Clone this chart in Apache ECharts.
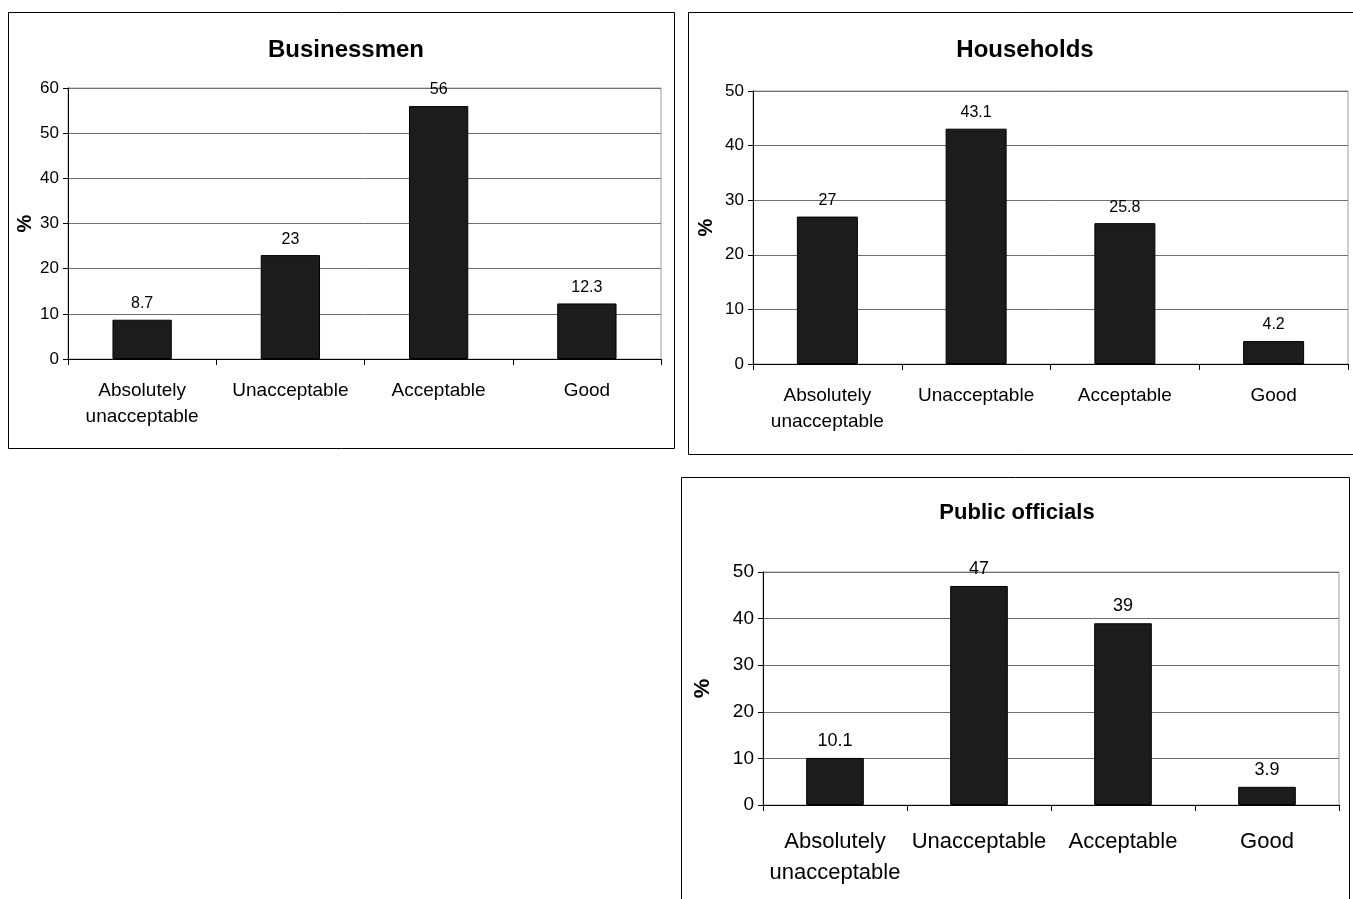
<!DOCTYPE html>
<html>
<head>
<meta charset="utf-8">
<style>
  html, body { margin: 0; padding: 0; background: #fff; }
  #chart { width: 1353px; height: 899px; }
</style>
<script src="https://cdn.jsdelivr.net/npm/echarts@6/dist/echarts.min.js"></script>
</head>
<body>
<div id="chart"></div>
<script>
// Survey answers, in percent
const categories = ['Absolutely\nunacceptable', 'Unacceptable', 'Acceptable', 'Good'];
const businessmen = [8.7, 23, 56, 12.3];
const households = [27, 43.1, 25.8, 4.2];
const publicOfficials = [10.1, 47, 39, 3.9];
const panelTitles = ['Businessmen', 'Households', 'Public officials'];
const axisMax = [60, 50, 50];

const FONT = '"Liberation Sans", Arial, sans-serif';

// one framed panel per respondent group
const panels = [
  { frame: [8, 12, 666, 436], grid: { left: 68, top: 88, width: 593, height: 271 }, titleDx: 0, titleTop: 33, titleSize: 24, tick: 17, cat: 19, lab: 16, lh: 26, margin: 19, nameSize: 20, nameGap: 33, barW: '40%', data: businessmen },
  { frame: [688, 12, 700, 442], grid: { left: 753, top: 91, width: 595, height: 273 }, titleDx: -18, titleTop: 33, titleSize: 24, tick: 17, cat: 19, lab: 16, lh: 26, margin: 19, nameSize: 20, nameGap: 37, barW: '41%', data: households },
  { frame: [681, 477, 668, 440], grid: { left: 763, top: 572, width: 576, height: 233 }, titleDx: -3, titleTop: 497, titleSize: 22, tick: 19, cat: 22, lab: 18, lh: 31, margin: 21, nameSize: 22, nameGap: 49, barW: '40%', data: publicOfficials }
];

const option = {
  backgroundColor: '#fff',
  animation: false,
  title: panels.map((p, i) => ({
    text: panelTitles[i],
    left: p.frame[0] + p.frame[2] / 2 + p.titleDx,
    textAlign: 'center',
    top: p.titleTop,
    textStyle: { fontFamily: FONT, fontWeight: 'bold', fontSize: p.titleSize, color: '#000' }
  })),
  graphic: panels.map(p => ({
    type: 'rect',
    shape: { x: p.frame[0] + 0.5, y: p.frame[1] + 0.5, width: p.frame[2], height: p.frame[3] },
    style: { fill: 'none', stroke: '#000', lineWidth: 1 },
    silent: true
  })),
  grid: panels.map(p => Object.assign({ show: true, borderColor: '#a0a0a0', borderWidth: 1, backgroundColor: 'transparent' }, p.grid)),
  xAxis: panels.map((p, i) => ({
    type: 'category',
    gridIndex: i,
    data: categories,
    axisLine: { lineStyle: { color: '#000', width: 1 } },
    axisTick: { show: true, length: 6, lineStyle: { color: '#000' } },
    axisLabel: { fontFamily: FONT, fontSize: p.cat, color: '#000', margin: p.margin, lineHeight: p.lh, interval: 0 }
  })),
  yAxis: panels.map((p, i) => ({
    type: 'value',
    gridIndex: i,
    min: 0,
    max: axisMax[i],
    interval: 10,
    name: '%',
    nameLocation: 'middle',
    nameRotate: 90,
    nameGap: p.nameGap,
    nameTextStyle: { fontFamily: FONT, fontWeight: 'bold', fontSize: p.nameSize, color: '#000' },
    axisLine: { show: true, lineStyle: { color: '#000', width: 1 } },
    axisTick: { show: true, length: 5, lineStyle: { color: '#000' } },
    axisLabel: { fontFamily: FONT, fontSize: p.tick, color: '#000', margin: 9 },
    splitLine: { show: true, lineStyle: { color: '#6e6e6e', width: 1 } }
  })),
  series: panels.map((p, i) => ({
    type: 'bar',
    xAxisIndex: i,
    yAxisIndex: i,
    data: p.data,
    barWidth: p.barW,
    itemStyle: { color: '#1c1c1c', borderColor: '#000', borderWidth: 1 },
    label: {
      show: true,
      position: 'top',
      distance: 8,
      fontFamily: FONT,
      fontSize: p.lab,
      color: '#000'
    }
  }))
};

const chart = echarts.init(document.getElementById('chart'), null, { renderer: 'canvas' });
chart.setOption(option);
</script>
</body>
</html>
